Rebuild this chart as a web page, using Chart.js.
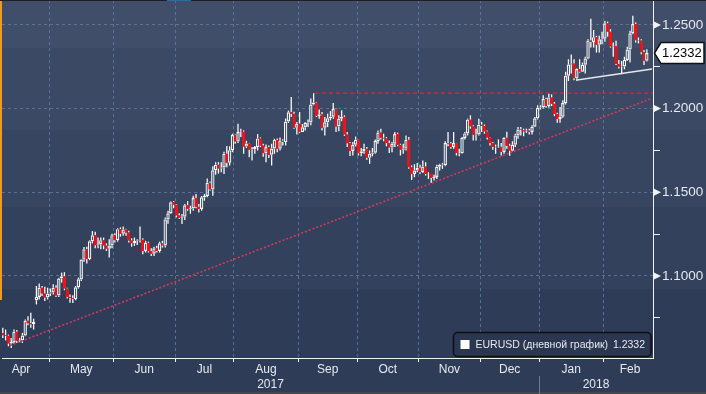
<!DOCTYPE html>
<html>
<head>
<meta charset="utf-8">
<script src="https://cdn.jsdelivr.net/npm/chart.js@4.4.1/dist/chart.umd.min.js"></script>
<style>
  html, body { margin: 0; padding: 0; background: #2f3c57; }
  #chart { display: block; }
</style>
</head>
<body>
<canvas id="chart" width="706" height="394"></canvas>
<script>
// EURUSD daily candles, 6 Apr 2017 - 22 Feb 2018, one entry per trading day.
// Open of each bar = previous close (except the Monday gap after the French vote).
const closes = [
  1.0646, 1.0643, 1.0597, 1.0605, 1.0667, 1.0613, 1.0616, 1.0644, 1.0732, 1.0717, 1.0712, 1.0726, 1.0875, 1.0930, 1.0895, 1.0872, 1.0895,
  1.0902, 1.0930, 1.0883, 1.0985, 1.0998, 1.0925, 1.0875, 1.0868, 1.0862, 1.0933, 1.0980, 1.1098, 1.1160, 1.1101, 1.1208, 1.1243, 1.1183, 1.1190, 1.1214, 1.1182, 1.1163, 1.1182, 1.1244,
  1.1214, 1.1280, 1.1252, 1.1278, 1.1260, 1.1212, 1.1196, 1.1209, 1.1212, 1.1216, 1.1150, 1.1198, 1.1148, 1.1133, 1.1166, 1.1150, 1.1195, 1.1182, 1.1338, 1.1375, 1.1441, 1.1426,
  1.1362, 1.1348, 1.1354, 1.1422, 1.1400, 1.1404, 1.1466, 1.1414, 1.1400, 1.1470, 1.1478, 1.1557, 1.1517, 1.1632, 1.1665, 1.1642, 1.1648, 1.1730, 1.1677, 1.1752, 1.1842,
  1.1803, 1.1860, 1.1862, 1.1773, 1.1792, 1.1754, 1.1757, 1.1770, 1.1822, 1.1779, 1.1733, 1.1770, 1.1724, 1.1762, 1.1813, 1.1760, 1.1808, 1.1800, 1.1923, 1.1978, 1.1970, 1.1885, 1.1910,
  1.1861, 1.1888, 1.1915, 1.1917, 1.2024, 1.2036, 1.1956, 1.1966, 1.1886, 1.1918, 1.1943, 1.1952, 1.1997, 1.1893, 1.1940, 1.1951, 1.1846, 1.1793, 1.1747, 1.1784, 1.1814,
  1.1733, 1.1745, 1.1760, 1.1706, 1.1731, 1.1737, 1.1806, 1.1857, 1.1826, 1.1822, 1.1794, 1.1767, 1.1790, 1.1848, 1.1784, 1.1754, 1.1761, 1.1814, 1.1650, 1.1609, 1.1630, 1.1646,
  1.1620, 1.1654, 1.1609, 1.1610, 1.1585, 1.1592, 1.1653, 1.1665, 1.1662, 1.1795, 1.1792, 1.1771, 1.1794, 1.1735, 1.1734, 1.1825, 1.1852, 1.1934, 1.1894, 1.1844, 1.1846, 1.1904,
  1.1896, 1.1864, 1.1827, 1.1795, 1.1772, 1.1769, 1.1772, 1.1741, 1.1826, 1.1778, 1.1749, 1.1784, 1.1840, 1.1875, 1.1872, 1.1864, 1.1870, 1.1861, 1.1892, 1.1942, 1.2005,
  1.2008, 1.2057, 1.2015, 1.2067, 1.2029, 1.1968, 1.1938, 1.1951, 1.2033, 1.2197, 1.2263, 1.2270, 1.2181, 1.2236, 1.2221, 1.2262, 1.2299, 1.2407, 1.2398, 1.2427, 1.2382, 1.2414, 1.2418,
  1.2510, 1.2460, 1.2371, 1.2374, 1.2267, 1.2251, 1.2252, 1.2291, 1.2353, 1.2450, 1.2505, 1.2408, 1.2407, 1.2337, 1.2286, 1.2332
];
const highs = [
  1.0690, 1.0680, 1.0650, 1.0630, 1.0680, 1.0678, 1.0630, 1.0660, 1.0740, 1.0760, 1.0780, 1.0745, 1.0940, 1.0955, 1.0940, 1.0935, 1.0930,
  1.0925, 1.0950, 1.0945, 1.0990, 1.1020, 1.1023, 1.0930, 1.0890, 1.0885, 1.0940, 1.0990, 1.1100, 1.1173, 1.1175, 1.1213, 1.1268, 1.1265, 1.1230, 1.1230, 1.1230, 1.1195, 1.1220, 1.1252,
  1.1255, 1.1285, 1.1290, 1.1296, 1.1282, 1.1270, 1.1225, 1.1230, 1.1220, 1.1296, 1.1225, 1.1210, 1.1205, 1.1165, 1.1175, 1.1180, 1.1205, 1.1210, 1.1350, 1.1390, 1.1445, 1.1448,
  1.1430, 1.1375, 1.1370, 1.1430, 1.1448, 1.1420, 1.1480, 1.1490, 1.1430, 1.1478, 1.1490, 1.1582, 1.1565, 1.1655, 1.1680, 1.1680, 1.1680, 1.1743, 1.1777, 1.1775, 1.1850,
  1.1845, 1.1910, 1.1880, 1.1870, 1.1808, 1.1795, 1.1770, 1.1776, 1.1848, 1.1828, 1.1790, 1.1785, 1.1780, 1.1790, 1.1820, 1.1822, 1.1827, 1.1817, 1.1941, 1.1988, 1.2070, 1.1982, 1.1920,
  1.1980, 1.1908, 1.1920, 1.1935, 1.2060, 1.2092, 1.2040, 1.1995, 1.1980, 1.1950, 1.1970, 1.1985, 1.2033, 1.2000, 1.1960, 1.1990, 1.1960, 1.1860, 1.1800, 1.1800, 1.1833,
  1.1815, 1.1765, 1.1790, 1.1770, 1.1750, 1.1765, 1.1815, 1.1870, 1.1880, 1.1850, 1.1830, 1.1810, 1.1800, 1.1860, 1.1856, 1.1790, 1.1790, 1.1840, 1.1830, 1.1660, 1.1668, 1.1675,
  1.1665, 1.1690, 1.1680, 1.1620, 1.1610, 1.1605, 1.1665, 1.1670, 1.1675, 1.1805, 1.1860, 1.1800, 1.1860, 1.1795, 1.1760, 1.1830, 1.1860, 1.1940, 1.1960, 1.1900, 1.1880, 1.1940,
  1.1920, 1.1905, 1.1870, 1.1830, 1.1800, 1.1785, 1.1816, 1.1795, 1.1830, 1.1862, 1.1790, 1.1805, 1.1850, 1.1890, 1.1890, 1.1880, 1.1880, 1.1880, 1.1900, 1.1950, 1.2020,
  1.2020, 1.2080, 1.2065, 1.2090, 1.2085, 1.2040, 1.1975, 1.2010, 1.2050, 1.2220, 1.2295, 1.2323, 1.2295, 1.2240, 1.2295, 1.2275, 1.2310, 1.2415, 1.2537, 1.2470, 1.2435, 1.2435, 1.2460,
  1.2524, 1.2520, 1.2475, 1.2395, 1.2405, 1.2290, 1.2285, 1.2310, 1.2370, 1.2465, 1.2555, 1.2515, 1.2425, 1.2415, 1.2350, 1.2355
];
const lows = [
  1.0630, 1.0615, 1.0580, 1.0570, 1.0595, 1.0600, 1.0605, 1.0600, 1.0640, 1.0705, 1.0690, 1.0680, 1.0830, 1.0860, 1.0880, 1.0850, 1.0860,
  1.0880, 1.0890, 1.0875, 1.0875, 1.0960, 1.0915, 1.0865, 1.0840, 1.0838, 1.0855, 1.0925, 1.0970, 1.1085, 1.1075, 1.1095, 1.1195, 1.1165, 1.1165, 1.1160, 1.1160, 1.1150, 1.1110, 1.1165,
  1.1200, 1.1205, 1.1235, 1.1240, 1.1240, 1.1200, 1.1175, 1.1180, 1.1185, 1.1200, 1.1130, 1.1140, 1.1140, 1.1120, 1.1120, 1.1140, 1.1140, 1.1170, 1.1170, 1.1312, 1.1370, 1.1405,
  1.1350, 1.1340, 1.1310, 1.1335, 1.1390, 1.1372, 1.1390, 1.1405, 1.1380, 1.1390, 1.1450, 1.1470, 1.1510, 1.1480, 1.1605, 1.1612, 1.1620, 1.1610, 1.1650, 1.1660, 1.1740,
  1.1790, 1.1795, 1.1830, 1.1730, 1.1765, 1.1710, 1.1690, 1.1730, 1.1750, 1.1770, 1.1712, 1.1680, 1.1705, 1.1660, 1.1730, 1.1740, 1.1750, 1.1780, 1.1780, 1.1915, 1.1950, 1.1880, 1.1845,
  1.1855, 1.1860, 1.1870, 1.1890, 1.1900, 1.2020, 1.1950, 1.1940, 1.1870, 1.1840, 1.1890, 1.1930, 1.1940, 1.1860, 1.1865, 1.1925, 1.1837, 1.1770, 1.1717, 1.1720, 1.1774,
  1.1720, 1.1715, 1.1730, 1.1695, 1.1670, 1.1715, 1.1730, 1.1790, 1.1815, 1.1805, 1.1775, 1.1735, 1.1740, 1.1770, 1.1775, 1.1720, 1.1730, 1.1750, 1.1640, 1.1574, 1.1590, 1.1620,
  1.1610, 1.1615, 1.1600, 1.1580, 1.1555, 1.1570, 1.1580, 1.1630, 1.1640, 1.1655, 1.1775, 1.1760, 1.1760, 1.1720, 1.1715, 1.1730, 1.1815, 1.1840, 1.1880, 1.1810, 1.1810, 1.1840,
  1.1860, 1.1850, 1.1815, 1.1780, 1.1755, 1.1730, 1.1765, 1.1720, 1.1730, 1.1760, 1.1718, 1.1745, 1.1770, 1.1820, 1.1840, 1.1835, 1.1855, 1.1845, 1.1845, 1.1890, 1.1935,
  1.1995, 1.2000, 1.2005, 1.2005, 1.2015, 1.1955, 1.1915, 1.1915, 1.1945, 1.2025, 1.2165, 1.2210, 1.2170, 1.2165, 1.2215, 1.2220, 1.2210, 1.2295, 1.2365, 1.2365, 1.2335, 1.2335, 1.2385,
  1.2400, 1.2430, 1.2365, 1.2310, 1.2260, 1.2240, 1.2205, 1.2235, 1.2285, 1.2275, 1.2445, 1.2395, 1.2390, 1.2325, 1.2260, 1.2282
];
const firstOpen = 1.0660;
const gapOpens = { 12: 1.0855 };

// calendar: full trading-day count of every month shown; the data starts on the 4th day of April
const monthNames = ['Apr', 'May', 'Jun', 'Jul', 'Aug', 'Sep', 'Oct', 'Nov', 'Dec', 'Jan', 'Feb'];
const monthTradingDays = [20, 23, 22, 21, 23, 21, 22, 22, 21, 23, 19];
const daysBeforeFirstBar = 3;
const yearNames = ['2017', '2018'];
const yearFirstMonth = [0, 9];

const priceTicks = [1.075, 1.100, 1.125, 1.150, 1.175, 1.200, 1.225, 1.250];
const lastValue = 1.2332;
const seriesName = 'EURUSD (дневной график)';

// hand-drawn study lines, in (bar index, price)
const supportLine = [{ x: 2.6, y: 1.0585 }, { x: 231.1, y: 1.2057 }];
const septemberHigh = [{ x: 111.5, y: 1.2092 }, { x: 232.2, y: 1.2092 }];
const neckLine = [{ x: 205.1, y: 1.2171 }, { x: 231.9, y: 1.2237 }];

const xMin = -0.29, xMax = 232.2;
const yMin = 1.0510, yMax = 1.2649;

// --- derived series ---
const opens = closes.map((c, i) => (i in gapOpens) ? gapOpens[i] : (i === 0 ? firstOpen : closes[i - 1]));
const rising = closes.map((c, i) => c >= opens[i]);
const bodies = closes.map((c, i) => ({ x: i, y: [Math.min(opens[i], c), Math.max(opens[i], c)] }));
const upperWicks = closes.map((c, i) => ({ x: i, y: [Math.max(opens[i], c), highs[i]] }));
const lowerWicks = closes.map((c, i) => ({ x: i, y: [lows[i], Math.min(opens[i], c)] }));

const monthEdges = [];
const monthCentres = [];
let edge = -daysBeforeFirstBar - 0.5;
monthTradingDays.forEach(n => {
  monthCentres.push(edge + n / 2);
  edge += n;
  monthEdges.push(edge);
});
monthEdges.pop();
const yearEdge = monthEdges[yearFirstMonth[1] - 1];
const yearCentres = [(xMin + yearEdge) / 2, (yearEdge + xMax) / 2];

const isMajor = v => Math.abs(v * 20 - Math.round(v * 20)) < 1e-6;

// --- colours ---
const gridBlue = 'rgba(96, 126, 158, 0.8)';
const axisWhite = '#f2f2f2';
const textLight = '#e6e9ee';
const upColour = '#fafafa';
const downColour = '#ff1010';
const bandEdges = [0, 48, 130, 207, 289, 394];
const bandColours = ['#404e69', '#3b4964', '#374560', '#33415c', '#2f3c58'];

Chart.defaults.font.family = '"Liberation Sans", Arial, sans-serif';

// no edge padding for the outer labels: the plot runs right up to the frame
const noEdgePadding = s => { s.paddingTop = 0; s.paddingBottom = 0; s.paddingLeft = 0; s.paddingRight = 0; };

const backgroundBands = {
  id: 'backgroundBands',
  beforeDraw(chart) {
    const ctx = chart.ctx;
    ctx.save();
    for (let i = 0; i < bandColours.length; i++) {
      ctx.fillStyle = bandColours[i];
      ctx.fillRect(0, bandEdges[i], chart.width, bandEdges[i + 1] - bandEdges[i]);
    }
    ctx.restore();
  }
};

const terminalChrome = {
  id: 'terminalChrome',
  afterDraw(chart) {
    const ctx = chart.ctx;
    const y = chart.scales.y;
    const xy = chart.scales.xy;
    ctx.save();

    // window edges
    ctx.fillStyle = '#f39a1e';
    ctx.fillRect(0, 0, 2, 300);
    ctx.fillStyle = '#1d1f24';
    ctx.fillRect(0, 0, chart.width, 1);
    ctx.fillStyle = '#2d6ca3';
    ctx.fillRect(167, 0, 24, 1);
    ctx.fillStyle = '#44474d';
    ctx.fillRect(0, 392, chart.width, 2);

    // flag marks on the major price ticks
    ctx.fillStyle = axisWhite;
    priceTicks.filter(isMajor).forEach(v => {
      const py = y.getPixelForValue(v);
      ctx.beginPath();
      ctx.moveTo(y.left + 1, py - 3.5);
      ctx.lineTo(y.left + 8, py);
      ctx.lineTo(y.left + 1, py + 3.5);
      ctx.closePath();
      ctx.fill();
    });

    // year separator
    const sx = Math.round(xy.getPixelForValue(yearEdge)) + 0.5;
    ctx.strokeStyle = '#6f7a90';
    ctx.lineWidth = 1;
    ctx.beginPath();
    ctx.moveTo(sx, xy.top);
    ctx.lineTo(sx, xy.bottom);
    ctx.stroke();

    // last value tag
    const ty = y.getPixelForValue(lastValue);
    ctx.beginPath();
    ctx.moveTo(y.left + 1.5, ty);
    ctx.lineTo(y.left + 8, ty - 10.5);
    ctx.lineTo(chart.width - 2, ty - 10.5);
    ctx.lineTo(chart.width - 2, ty + 10.5);
    ctx.lineTo(y.left + 8, ty + 10.5);
    ctx.closePath();
    ctx.fillStyle = '#ffffff';
    ctx.fill();
    ctx.strokeStyle = '#111111';
    ctx.lineWidth = 1.5;
    ctx.stroke();
    ctx.fillStyle = '#000000';
    ctx.font = '13px "Liberation Sans", Arial, sans-serif';
    ctx.textAlign = 'left';
    ctx.textBaseline = 'middle';
    ctx.fillText(lastValue.toFixed(4), y.left + 9, ty + 0.5);

    // legend box
    const area = chart.chartArea;
    const bx = 453.5, by = 332.5, bw = area.right - 2 - bx, bh = 24;
    ctx.beginPath();
    ctx.roundRect(bx, by, bw, bh, 4);
    ctx.fillStyle = '#2b3751';
    ctx.fill();
    ctx.strokeStyle = '#0c0e12';
    ctx.lineWidth = 1.5;
    ctx.stroke();
    ctx.fillStyle = '#ffffff';
    ctx.fillRect(bx + 7, by + 7.5, 9, 9);
    ctx.fillStyle = textLight;
    ctx.font = '10.5px "Liberation Sans", Arial, sans-serif';
    ctx.textBaseline = 'middle';
    ctx.textAlign = 'left';
    ctx.fillText(seriesName, bx + 22, by + bh / 2 + 0.5);
    ctx.textAlign = 'right';
    ctx.fillText(lastValue.toFixed(4), bx + bw - 6, by + bh / 2 + 0.5);

    ctx.restore();
  }
};

new Chart(document.getElementById('chart'), {
  type: 'bar',
  data: {
    datasets: [
      { type: 'line', data: supportLine, borderColor: '#d13b5a', borderWidth: 1.6, borderDash: [2, 2], pointRadius: 0, fill: false, order: 0 },
      { type: 'line', data: septemberHigh, borderColor: '#ec1c38', borderWidth: 1.2, borderDash: [4, 3], pointRadius: 0, fill: false, order: 0 },
      { type: 'line', data: neckLine, borderColor: '#e4e8ee', borderWidth: 1.6, pointRadius: 0, fill: false, order: 0 },
      {
        data: bodies, grouped: false, barThickness: 3.4, maxBarThickness: 3.4, inflateAmount: 0,
        borderWidth: 1.2, borderSkipped: false,
        backgroundColor: rising.map(u => u ? 'rgba(0,0,0,0)' : downColour),
        borderColor: rising.map(u => u ? upColour : downColour),
        order: 1
      },
      { data: upperWicks, grouped: false, barThickness: 1.3, maxBarThickness: 1.3, inflateAmount: 0, borderWidth: 0, backgroundColor: upColour, order: 2 },
      { data: lowerWicks, grouped: false, barThickness: 1.3, maxBarThickness: 1.3, inflateAmount: 0, borderWidth: 0, backgroundColor: upColour, order: 2 }
    ]
  },
  options: {
    responsive: false,
    animation: false,
    events: [],
    layout: { padding: { left: 2, top: 0, right: 0, bottom: 0 } },
    plugins: { legend: { display: false }, tooltip: { enabled: false } },
    scales: {
      x: {
        type: 'linear', position: 'bottom', min: xMin, max: xMax, offset: false, weight: 0,
        afterBuildTicks: s => { s.ticks = monthEdges.map(v => ({ value: v })); },
        afterFit: s => { s.height = 4; noEdgePadding(s); },
        ticks: { display: false, autoSkip: false },
        grid: { offset: false, color: gridBlue, lineWidth: 1, drawTicks: true, tickLength: 4, tickColor: axisWhite, tickWidth: 1 },
        border: { display: true, color: axisWhite, width: 1, dash: [3, 3] }
      },
      xm: {
        type: 'linear', position: 'bottom', min: xMin, max: xMax, offset: false, weight: 1,
        afterBuildTicks: s => { s.ticks = monthCentres.map(v => ({ value: v })); },
        afterFit: s => { s.height = 14; noEdgePadding(s); },
        ticks: { autoSkip: false, maxRotation: 0, padding: 0, color: textLight, font: { size: 12 }, callback: (v, i) => monthNames[i] },
        grid: { display: false, drawTicks: false },
        border: { display: false }
      },
      xy: {
        type: 'linear', position: 'bottom', min: xMin, max: xMax, offset: false, weight: 2,
        afterBuildTicks: s => { s.ticks = yearCentres.map(v => ({ value: v })); },
        afterFit: s => { s.height = 18; noEdgePadding(s); },
        ticks: { autoSkip: false, maxRotation: 0, padding: 1, color: textLight, font: { size: 12 }, callback: (v, i) => yearNames[i] },
        grid: { display: false, drawTicks: false },
        border: { display: false }
      },
      y: {
        type: 'linear', position: 'right', min: yMin, max: yMax, beginAtZero: false,
        afterBuildTicks: s => { s.ticks = priceTicks.map(v => ({ value: v })); },
        afterFit: s => { s.width = 53; noEdgePadding(s); },
        ticks: { autoSkip: false, padding: 2, color: textLight, font: { size: 13.5 }, callback: v => isMajor(v) ? v.toFixed(4) : '' },
        grid: {
          color: c => (c.tick && isMajor(c.tick.value)) ? gridBlue : 'rgba(0,0,0,0)',
          tickLength: 7,
          tickColor: c => (c.tick && isMajor(c.tick.value)) ? 'rgba(0,0,0,0)' : axisWhite
        },
        border: { display: true, color: axisWhite, width: 1, dash: [3, 3] }
      }
    }
  },
  plugins: [backgroundBands, terminalChrome]
});
</script>
</body>
</html>
